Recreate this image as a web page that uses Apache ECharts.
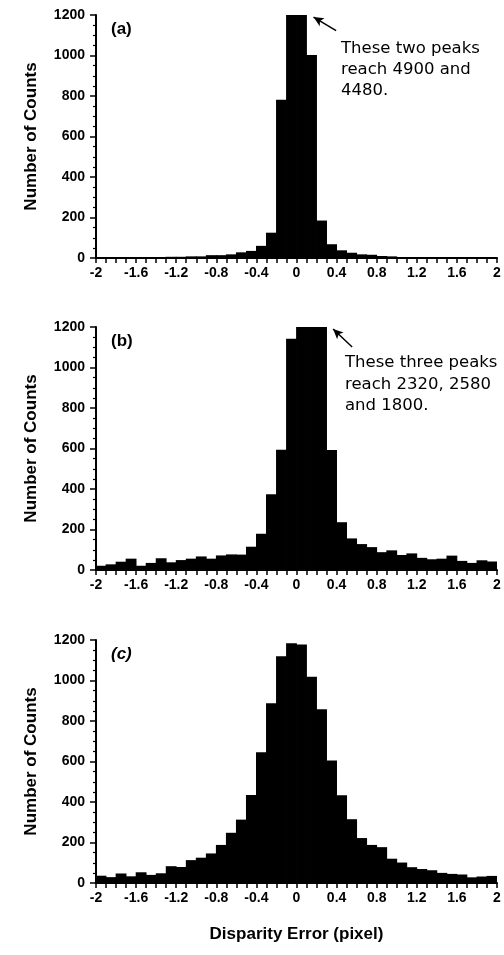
<!DOCTYPE html>
<html>
<head>
<meta charset="utf-8">
<script src="https://cdn.jsdelivr.net/npm/echarts@6/dist/echarts.min.js"></script>
<style>
html,body{margin:0;padding:0;background:#fff;}
#chart{width:504px;height:955px;}
</style>
</head>
<body>
<div id="chart"></div>
<script>
// Bin edges (pixel disparity error), 0.1 wide bins
const binEdges = [-2.0,-1.9,-1.8,-1.7,-1.6,-1.5,-1.4,-1.3,-1.2,-1.1,-1.0,-0.9,-0.8,-0.7,-0.6,-0.5,-0.4,-0.3,-0.2,-0.1,0.0,0.1,0.2,0.3,0.4,0.5,0.6,0.7,0.8,0.9,1.0,1.1,1.2,1.3,1.4,1.5,1.6,1.7,1.8,1.9,2.0];
// Counts per bin for each panel
const countsA = [2,2,5,5,1,1,1,6,6,8,8,14,14,18,28,35,60,125,781,4900,4480,1003,185,68,38,26,18,16,10,8,5,2,1,1,5,5,1,2,4,4];
const countsB = [21,28,41,56,21,35,58,38,49,56,67,56,72,77,76,115,179,374,594,1142,2320,2580,1800,592,236,156,128,113,88,97,74,82,60,53,56,71,45,35,48,42];
const countsC = [36,29,47,33,53,40,48,83,79,113,125,146,188,248,313,434,646,888,1120,1184,1178,1019,858,605,433,315,222,188,177,120,101,78,69,63,50,45,42,28,32,35];
const panelLabels = ['(a)','(b)','(c)'];
const xTickLabels = ['-2','-1.6','-1.2','-0.8','-0.4','0','0.4','0.8','1.2','1.6','2'];
const yName = 'Number of Counts';
const xName = 'Disparity Error (pixel)';
const noteA = ['These two peaks','reach 4900 and','4480.'];
const noteB = ['These three peaks','reach 2320, 2580','and 1800.'];
// arrow endpoints in data coordinates [tail, head]
const arrowA = [[0.395,1123],[0.17,1190]];
const arrowB = [[0.555,1101],[0.365,1190]];

const FONT = 'Liberation Sans, Arial, sans-serif';
const chart = echarts.init(document.getElementById('chart'), null, {renderer:'canvas'});

const tops = [15, 327, 640];
const grids = tops.map(t => ({left:96, width:401, top:t, height:243}));

function mkData(counts){
  return counts.map((c,i)=>[binEdges[i], binEdges[i+1], c]);
}
function renderItem(params, api){
  const x0 = api.value(0), x1 = api.value(1), y = api.value(2);
  const p0 = api.coord([x0, y]);
  const p1 = api.coord([x1, 0]);
  const cs = params.coordSys;
  const r = echarts.graphic.clipRectByRect(
    {x:p0[0]-0.4, y:p0[1], width:p1[0]-p0[0]+0.8, height:p1[1]-p0[1]},
    {x:cs.x, y:cs.y, width:cs.width, height:cs.height});
  return r && {type:'rect', shape:r, style:{fill:'#000'}};
}

const xAxes = [0,1,2].map(i => ({
  type:'value', gridIndex:i, min:-2, max:2, interval:0.4,
  axisLine:{show:true, onZero:false, lineStyle:{color:'#000', width:2}},
  axisTick:{show:true, length:5, lineStyle:{color:'#000', width:1.5}},
  minorTick:{show:true, splitNumber:4, length:5, lineStyle:{color:'#000', width:1.5}},
  splitLine:{show:false},
  axisLabel:{color:'#000', fontFamily:FONT, fontWeight:'bold', fontSize:14, margin:8,
    formatter:(v)=>{ const k = Math.round((v+2)/0.4); return xTickLabels[k] !== undefined ? xTickLabels[k] : ''; }},
  name: i===2 ? xName : '',
  nameLocation:'middle', nameGap:43,
  nameTextStyle:{color:'#000', fontFamily:FONT, fontWeight:'bold', fontSize:17}
}));
const yAxes = [0,1,2].map(i => ({
  type:'value', gridIndex:i, min:0, max:1200, interval:200,
  axisLine:{show:true, onZero:false, lineStyle:{color:'#000', width:2}},
  axisTick:{show:true, length:6, lineStyle:{color:'#000', width:1.5}},
  minorTick:{show:true, splitNumber:4, length:3, lineStyle:{color:'#000', width:1.2}},
  splitLine:{show:false},
  axisLabel:{color:'#000', fontFamily:FONT, fontWeight:'bold', fontSize:14, margin:11,
    formatter:(v)=>String(v)},
  name: yName, nameLocation:'middle', nameGap:56, nameRotate:90,
  nameTextStyle:{color:'#000', fontFamily:FONT, fontWeight:'bold', fontSize:17}
}));

const arrowLine = (a) => ({
  silent:true, symbol:['none','arrow'], symbolSize:[7,10],
  label:{show:false},
  lineStyle:{color:'#000', width:1.5, type:'solid'},
  data:[[{coord:a[0]},{coord:a[1]}]]
});

const series = [countsA, countsB, countsC].map((c,i)=>({
  type:'custom', xAxisIndex:i, yAxisIndex:i,
  renderItem, data:mkData(c),
  encode:{x:[0,1], y:2},
  silent:true, animation:false,
  markLine: i===0 ? arrowLine(arrowA) : (i===1 ? arrowLine(arrowB) : undefined)
}));

const graphics = [];
tops.forEach((t,i)=>{
  graphics.push({type:'text', left:111, top:t+6, style:{text:panelLabels[i], fill:'#000',
    font:(i===2?'italic ':'')+'bold 17px '+FONT}});
});
graphics.push({type:'text', left:341, top:38, style:{text:noteA.join('\n'), fill:'#000',
  font:'16.5px DejaVu Sans, sans-serif', lineHeight:21}});
graphics.push({type:'text', left:345, top:352, style:{text:noteB.join('\n'), fill:'#000',
  font:'16.5px DejaVu Sans, sans-serif', lineHeight:21.5}});

chart.setOption({
  animation:false,
  backgroundColor:'#fff',
  grid:grids,
  xAxis:xAxes,
  yAxis:yAxes,
  series,
  graphic:graphics
});
</script>
</body>
</html>
